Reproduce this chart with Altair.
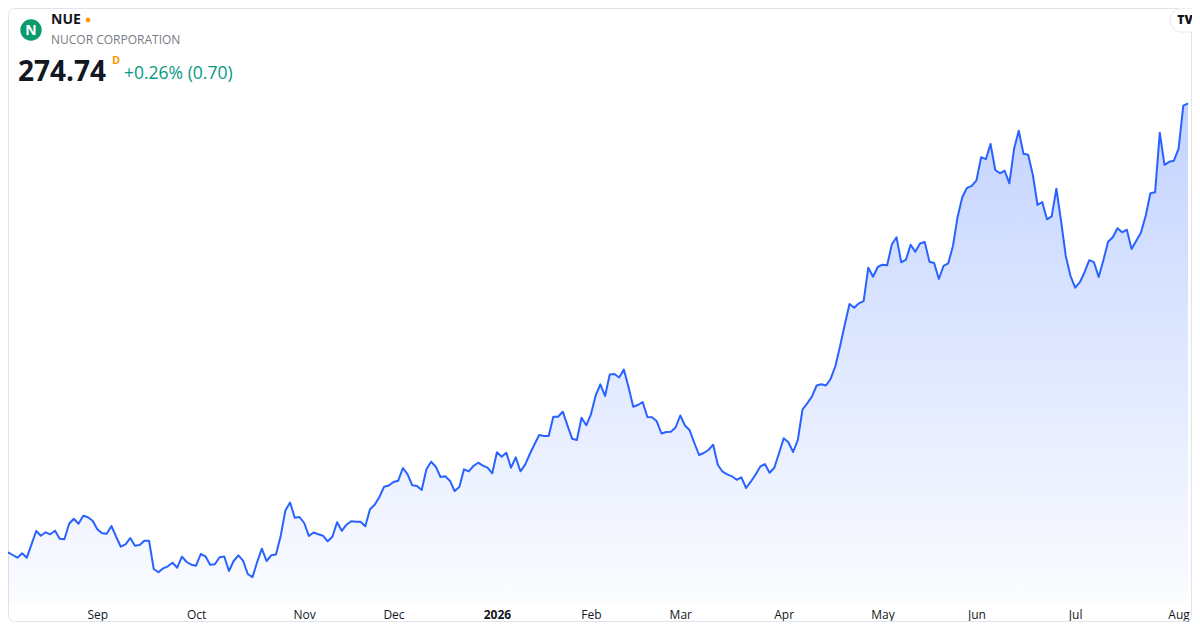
import altair as alt
import pandas as pd

# ---------------- data ----------------
ticker = "NUE"
company = "NUCOR CORPORATION"
last_price = "274.74"
change_text = "+0.26% (0.70)"

holidays = ["2025-09-01", "2025-11-27", "2025-12-25", "2026-01-01", "2026-01-19",
            "2026-02-16", "2026-04-03", "2026-05-25", "2026-06-19", "2026-07-03"]

closes = [
    140.04, 139.23, 138.42, 139.74, 138.42, 142.44, 146.43, 145.02, 146.04, 145.44,
    146.52, 144.12, 143.94, 148.62, 150.12, 148.62, 151.02, 150.54, 149.52, 146.94,
    145.74, 145.62, 147.93, 144.72, 141.72, 142.44, 144.33, 142.02, 142.23, 143.52,
    143.52, 135.03, 134.04, 135.24, 135.84, 136.92, 135.42, 138.72, 137.13, 136.32,
    136.02, 139.53, 138.84,
    136.32, 136.44, 138.54, 138.78, 134.43, 137.43, 139.14, 137.52, 133.53, 132.57,
    137.13, 141.12, 137.43, 139.14, 139.38, 144.93, 152.58, 154.98, 150.42, 150.63,
    148.83, 144.93, 145.98, 145.44, 145.02, 143.34, 144.72, 149.07, 146.49, 148.32,
    149.34, 149.22, 149.22, 147.87, 152.94, 154.32, 156.63, 159.72, 160.08, 161.13,
    161.52, 165.33,
    163.44, 160.14, 159.93, 158.73, 164.94, 167.22, 165.72, 162.63, 162.84, 161.52,
    158.43, 159.63, 164.94, 164.34, 165.93, 166.92, 166.02, 165.42, 163.74, 170.04,
    168.72, 169.92, 165.42, 168.54, 164.34, 166.32, 169.53, 172.44, 175.23, 174.93,
    174.93, 180.72, 180.72, 182.22, 178.14, 174.12, 173.73, 180.42, 178.14, 181.44,
    187.08, 190.44, 186.93, 193.38, 193.53, 192.48, 194.88, 189.54, 183.72, 184.23,
    185.13, 180.63, 180.54, 179.34, 175.68, 176.13, 176.22, 177.48, 181.08, 178.08,
    176.64, 172.83, 169.23, 169.83, 170.73, 172.32, 166.23, 164.22, 163.44, 162.84,
    161.79, 162.54, 159.33, 161.22, 163.32, 165.72, 166.53, 163.92, 165.42, 169.74,
    174.24, 173.04, 170.13, 173.73, 182.88, 184.74, 186.72, 190.08, 190.47, 190.08,
    192.12, 195.93, 201.93, 208.38, 214.53, 213.39, 214.74, 215.37, 225.42, 222.72,
    225.63, 226.32, 226.14, 232.38, 234.54, 227.04, 227.82, 232.32, 230.19, 232.68,
    233.13, 227.22, 226.83, 222.03, 225.99, 226.74, 231.93, 240.72, 246.63, 249.39,
    249.99, 251.64, 258.57, 257.97, 262.53, 254.73, 253.74, 254.52, 250.74, 261.09,
    266.52, 259.62, 259.32, 253.23, 244.23, 245.13, 239.94, 240.84, 249.12, 239.43,
    228.93, 222.99, 219.42, 221.07, 224.07, 227.67, 227.07, 222.63, 227.64, 233.22,
    234.57, 237.27, 236.04, 236.82, 231.03, 233.52, 235.98, 240.99, 247.74, 248.04,
    265.92, 256.29, 257.19, 257.52, 261.12, 274.04, 274.74,
]

tick_labels = ["Sep", "Oct", "Nov", "Dec", "2026", "Feb", "Mar", "Apr", "May", "Jun", "Jul", "Aug"]

# trading days (exchange calendar)
dates = pd.bdate_range("2025-08-05", "2026-08-05", freq="C", holidays=holidays)
assert len(dates) == len(closes), (len(dates), len(closes))

df = pd.DataFrame({"i": range(len(closes)), "date": dates, "close": closes})

tick_idx = [i for i in range(1, len(dates)) if dates[i].month != dates[i - 1].month]
label_expr = " : ".join(f"datum.value == {v} ? '{t}'" for v, t in zip(tick_idx, tick_labels)) + " : ''"
bold_idx = tick_idx[tick_labels.index("2026")]

# ---------------- layout ----------------
FONT = "Open Sans"
W, H = 1180, 594
Y_MIN, Y_MAX = 125.13, 303.33

xscale = alt.Scale(domain=[0, len(closes) - 1], nice=False, zero=False)
yscale = alt.Scale(domain=[Y_MIN, Y_MAX], nice=False, zero=False)

xaxis = alt.Axis(
    values=tick_idx, labelExpr=label_expr, title=None, grid=False, domain=False,
    ticks=False, labelPadding=12, labelBaseline="middle", labelFont=FONT, labelFontSize=12,
    labelColor="#131722", labelOverlap=False, labelFlush=False,
    labelFontWeight={"condition": {"test": f"datum.value == {bold_idx}", "value": "bold"},
                     "value": "normal"},
)

base = alt.Chart(df)

area = base.mark_area(
    color=alt.Gradient(
        gradient="linear",
        stops=[alt.GradientStop(color="rgba(41,98,255,0.02)", offset=0),
               alt.GradientStop(color="rgba(41,98,255,0.28)", offset=1)],
        x1=1, x2=1, y1=1, y2=0,
    )
).encode(
    x=alt.X("i:Q", scale=xscale, axis=xaxis),
    y=alt.Y("close:Q", scale=yscale, axis=None),
    y2=alt.datum(Y_MIN),
)

line = base.mark_line(color="#2962FF", strokeWidth=2, strokeJoin="round").encode(
    x=alt.X("i:Q", scale=xscale),
    y=alt.Y("close:Q", scale=yscale),
)

one = pd.DataFrame({"t": [""]})

card = alt.Chart(one).mark_rect(
    fill="white", fillOpacity=0, stroke="#e0e3eb", strokeWidth=1, cornerRadius=6
).encode(x=alt.value(0.5), x2=alt.value(1183.5), y=alt.value(0.5), y2=alt.value(613.5))

def txt(s, x, y, size, color, weight="normal", align="left"):
    return alt.Chart(pd.DataFrame({"t": [s]})).mark_text(
        font=FONT, fontSize=size, color=color, fontWeight=weight, align=align, baseline="middle"
    ).encode(text="t:N", x=alt.value(x), y=alt.value(y))

logo = alt.Chart(one).mark_circle(color="#0a9a6c", opacity=1, size=460).encode(
    x=alt.value(23), y=alt.value(22))
logo_n = txt("N", 23, 22.5, 14, "white", "bold", "center")
dot = alt.Chart(one).mark_circle(color="#ff9800", opacity=1, size=24).encode(
    x=alt.value(80), y=alt.value(12))

tv_pill = alt.Chart(one).mark_rect(
    fill="white", stroke="#e6e8ee", strokeWidth=1, cornerRadius=12
).encode(x=alt.value(1162), x2=alt.value(1198), y=alt.value(0), y2=alt.value(24))
tv_text = txt("TV", 1177, 12, 12, "#131722", 900, "center")

chart = alt.layer(
    card, area, line,
    logo, logo_n,
    txt(ticker, 43, 12, 14, "#131722", "bold"), dot,
    txt(company, 43, 32, 12, "#787b86"),
    txt(last_price, 10, 65, 28, "#131722", "bold"),
    txt("D", 104, 53, 11, "#ff9800", "bold"),
    txt(change_text, 116, 66, 17.5, "#089981"),
    tv_pill, tv_text,
).properties(
    width=W, height=H,
    autosize=alt.AutoSizeParams(type="none"),
    padding={"left": 0, "top": 0, "right": 4, "bottom": 20},
    background="white",
).configure_view(stroke=None)

chart.save("out.html", embed_options={"renderer": "svg", "actions": False})
